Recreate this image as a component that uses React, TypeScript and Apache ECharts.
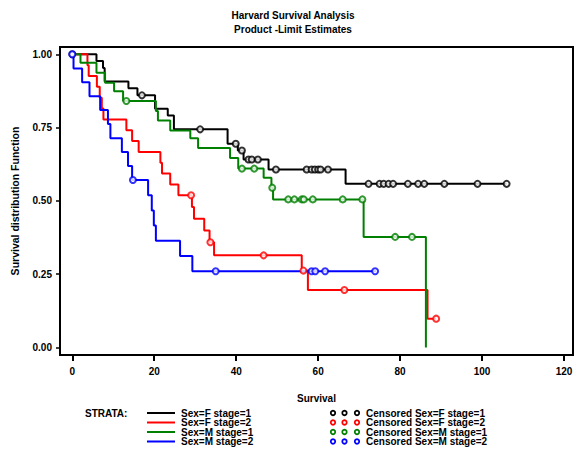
import React, { useEffect, useRef } from "react";
import * as echarts from "echarts";

const titleLines = ["Harvard Survival Analysis", "Product -Limit Estimates"];
const xTicks = [0, 20, 40, 60, 80, 100, 120];
const yTicks = [0, 0.25, 0.5, 0.75, 1];

const strataNames = ["Sex=F stage=1", "Sex=F stage=2", "Sex=M stage=1", "Sex=M stage=2"];
const strataColors = ["#000000", "#ff0000", "#008000", "#0000ff"];

// Sex=F stage=1
const f1Times = [0, 5.9, 7.5, 7.9, 13.7, 15.9, 20.2, 23.3, 24.8, 37.9, 40.4, 41.8, 47.9, 66.7, 106];
const f1Surv = [1, 0.977, 0.953, 0.907, 0.884, 0.86, 0.814, 0.791, 0.744, 0.695, 0.672, 0.641, 0.607, 0.558, 0.558];
const f1Cens = [0, 17, 31.2, 39.9, 41.4, 43, 43.8, 45.3, 49.7, 57.2, 58.4, 59.2, 60, 60.6, 62.4, 72.3, 75, 76, 77.2, 78.3, 81.9, 84.4, 85.9, 90.8, 98.9, 106];

// Sex=F stage=2
const f2Times = [0, 3.7, 4.0, 6.0, 6.7, 7.2, 7.6, 13.2, 14.6, 16.2, 21.5, 21.9, 23.9, 25.9, 29.2, 29.7, 32.2, 33.5, 34.6, 56.0, 57.5, 86.7, 88.8];
const f2Surv = [1, 0.963, 0.926, 0.889, 0.852, 0.815, 0.778, 0.741, 0.704, 0.667, 0.63, 0.593, 0.556, 0.519, 0.479, 0.439, 0.399, 0.359, 0.314, 0.262, 0.196, 0.098, 0.098];
const f2Cens = [29.0, 33.7, 46.7, 56.4, 66.4, 88.8];

// Sex=M stage=1
const m1Times = [0, 2, 5.9, 8, 10.2, 12.4, 20.4, 20.9, 23.9, 28.8, 30.7, 38.5, 40.5, 46.7, 48.6, 49.0, 71.1, 86.3];
const m1Surv = [1, 0.971, 0.937, 0.903, 0.874, 0.841, 0.807, 0.774, 0.74, 0.714, 0.68, 0.646, 0.61, 0.579, 0.545, 0.505, 0.377, 0];
const m1Cens = [13.2, 41.4, 44.4, 48.8, 52.7, 54.2, 56.0, 56.5, 58.7, 66.0, 70.8, 78.8, 82.9];

// Sex=M stage=2
const m2Times = [0, 0.3, 2.4, 4.2, 6.8, 8.7, 9.3, 12.1, 13.6, 14.6, 18.5, 19.4, 19.9, 20.4, 26.3, 29.3, 74.2];
const m2Surv = [1, 0.952, 0.905, 0.857, 0.81, 0.762, 0.714, 0.667, 0.619, 0.571, 0.519, 0.467, 0.416, 0.364, 0.312, 0.26, 0.26];
const m2Cens = [0, 14.8, 35, 58.4, 59.3, 61.7, 73.9];

const curveTimes = [f1Times, f2Times, m1Times, m2Times];
const curveSurv = [f1Surv, f2Surv, m1Surv, m2Surv];
const curveCens = [f1Cens, f2Cens, m1Cens, m2Cens];

const FONT = "Liberation Sans";

function survAt(times: number[], surv: number[], t: number) {
  let v = surv[0];
  for (let i = 0; i < times.length; i++) {
    if (times[i] <= t) v = surv[i];
  }
  return v;
}

export default function App() {
  const ref = useRef<HTMLDivElement>(null);
  useEffect(() => {
    if (!ref.current) return;
    const chart = echarts.init(ref.current, null, { renderer: "svg" });

    const series: any[] = [];
    strataNames.forEach((name, i) => {
      series.push({
        name,
        type: "line",
        step: "end",
        data: curveTimes[i].map((t, k) => [t, curveSurv[i][k]]),
        showSymbol: false,
        symbol: "none",
        lineStyle: { color: strataColors[i], width: 2 },
        itemStyle: { color: strataColors[i] },
        z: 2,
      });
    });
    strataNames.forEach((name, i) => {
      series.push({
        name: "Censored " + name,
        type: "scatter",
        data: curveCens[i].map((t) => [t, survAt(curveTimes[i], curveSurv[i], t)]),
        symbol: "circle",
        symbolSize: 6,
        itemStyle: { color: "#ffffff", borderColor: strataColors[i], borderWidth: 2 },
        z: 3,
      });
    });

    const font = `bold 10px "${FONT}"`;
    const legendY = [413, 422.5, 432, 441.5];
    const graphics: any[] = [
      {
        type: "text",
        style: { text: "STRATA:", x: 85, y: legendY[0], font, fill: "#000", verticalAlign: "middle" },
      },
    ];
    strataNames.forEach((name, i) => {
      graphics.push({
        type: "line",
        shape: { x1: 147, y1: legendY[i], x2: 175, y2: legendY[i] },
        style: { stroke: strataColors[i], lineWidth: 2 },
      });
      graphics.push({
        type: "text",
        style: { text: name, x: 181, y: legendY[i], font, fill: "#000", verticalAlign: "middle" },
      });
      [333, 344.5, 357].forEach((cx) => {
        graphics.push({
          type: "circle",
          shape: { cx, cy: legendY[i], r: 2.2 },
          style: { fill: "#fff", stroke: strataColors[i], lineWidth: 1.8 },
        });
      });
      graphics.push({
        type: "text",
        style: { text: "Censored " + name, x: 366, y: legendY[i], font, fill: "#000", verticalAlign: "middle" },
      });
    });
    titleLines.forEach((t, i) => {
      graphics.push({
        type: "text",
        style: { text: t, x: 293, y: 15 + i * 14.5, font, fill: "#000", align: "center", verticalAlign: "middle" },
      });
    });

    chart.setOption({
      animation: false,
      backgroundColor: "#ffffff",
      grid: {
        left: 60,
        right: 5,
        top: 47,
        bottom: 100,
        show: true,
        borderColor: "#000",
        borderWidth: 2,
        backgroundColor: "transparent",
      },
      xAxis: {
        type: "value",
        min: -3,
        max: 122.2,
        name: "Survival",
        nameLocation: "middle",
        nameGap: 38,
        nameTextStyle: { fontFamily: FONT, fontWeight: "bold", fontSize: 10, color: "#000" },
        axisLine: { show: true, onZero: false, lineStyle: { color: "#000", width: 2 } },
        axisTick: { show: true, length: 6, lineStyle: { color: "#000", width: 2 }, customValues: xTicks },
        axisLabel: { fontFamily: FONT, fontWeight: "bold", fontSize: 10, color: "#000", margin: 11, customValues: xTicks },
        splitLine: { show: false },
      },
      yAxis: {
        type: "value",
        min: -0.026,
        max: 1.025,
        name: "Survival distribution Function",
        nameLocation: "middle",
        nameGap: 40,
        nameRotate: 90,
        nameTextStyle: { fontFamily: FONT, fontWeight: "bold", fontSize: 10.5, color: "#000" },
        axisLine: { show: true, onZero: false, lineStyle: { color: "#000", width: 2 } },
        axisTick: { show: true, length: 4, lineStyle: { color: "#000", width: 1.5 }, customValues: yTicks },
        axisLabel: {
          fontFamily: FONT,
          fontWeight: "bold",
          fontSize: 10,
          color: "#000",
          margin: 8,
          customValues: yTicks,
          formatter: (v: number) => v.toFixed(2),
        },
        splitLine: { show: false },
      },
      graphic: graphics,
      series,
    });
    return () => chart.dispose();
  }, []);
  return <div ref={ref} style={{ position: "fixed", left: 0, top: 0, width: 578, height: 455 }} />;
}
